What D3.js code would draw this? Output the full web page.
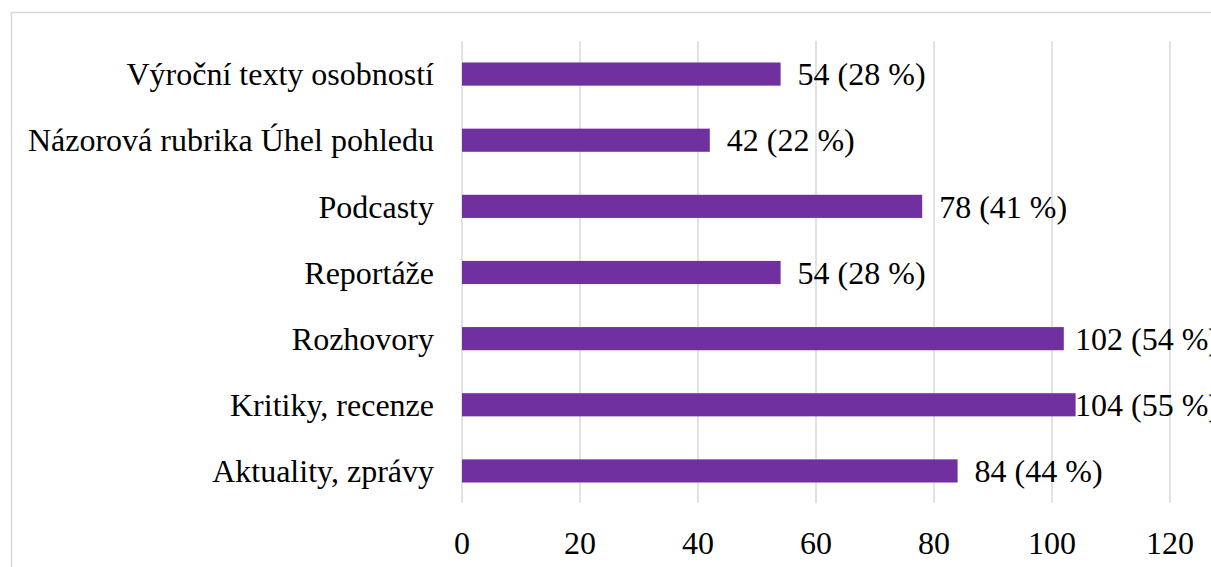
<!DOCTYPE html>
<html>
<head>
<meta charset="utf-8">
<script src="https://cdn.jsdelivr.net/npm/d3@7"></script>
<style>
  html, body { margin: 0; padding: 0; background: #fff; overflow: hidden; }
</style>
</head>
<body>
<script>
const categories = [
  "Výroční texty osobností",
  "Názorová rubrika Úhel pohledu",
  "Podcasty",
  "Reportáže",
  "Rozhovory",
  "Kritiky, recenze",
  "Aktuality, zprávy"
];
const counts = [54, 42, 78, 54, 102, 104, 84];
const shares = [28, 22, 41, 28, 54, 55, 44];
const xTicks = [0, 20, 40, 60, 80, 100, 120];

const W = 1211, H = 567;
const FONT = "'Liberation Serif', 'Times New Roman', Times, serif";
const FS = 32;
const svg = d3.select("body").append("svg")
  .attr("width", W)
  .attr("height", H);

// chart frame (runs off the right and bottom edge)
svg.append("rect")
  .attr("x", 11.5).attr("y", 12.5)
  .attr("width", 1300).attr("height", 700)
  .attr("fill", "none")
  .attr("stroke", "#d9d9d9")
  .attr("stroke-width", 1.5);

const x = d3.scaleLinear().domain([0, 120]).range([462, 1170]);
const y = d3.scaleBand().domain(categories).range([41, 504]).paddingInner(0.65).paddingOuter(0.325);

// gridlines
svg.append("g").selectAll("line")
  .data(xTicks)
  .enter().append("line")
  .attr("x1", d => x(d)).attr("x2", d => x(d))
  .attr("y1", 41).attr("y2", 503)
  .attr("stroke", "#d9d9d9")
  .attr("stroke-width", 1.5);

// bars
svg.append("g").selectAll("rect")
  .data(categories)
  .enter().append("rect")
  .attr("x", x(0))
  .attr("y", d => y(d))
  .attr("width", (d, i) => x(counts[i]) - x(0))
  .attr("height", y.bandwidth())
  .attr("fill", "#7030a0");

// value labels
svg.append("g").selectAll("text")
  .data(categories)
  .enter().append("text")
  .attr("x", (d, i) => Math.min(x(counts[i]) + 17, 1075))
  .attr("y", d => y(d) + y.bandwidth() / 2)
  .attr("dy", "0.35em")
  .attr("font-family", FONT)
  .attr("font-size", FS)
  .attr("fill", "#000")
  .text((d, i) => counts[i] + " (" + shares[i] + " %)");

// category labels
svg.append("g").selectAll("text")
  .data(categories)
  .enter().append("text")
  .attr("x", 434)
  .attr("y", d => y(d) + y.bandwidth() / 2)
  .attr("dy", "0.35em")
  .attr("text-anchor", "end")
  .attr("font-family", FONT)
  .attr("font-size", FS)
  .attr("fill", "#000")
  .text(d => d);

// x axis tick labels
svg.append("g").selectAll("text")
  .data(xTicks)
  .enter().append("text")
  .attr("x", d => x(d))
  .attr("y", 543)
  .attr("dy", "0.35em")
  .attr("text-anchor", "middle")
  .attr("font-family", FONT)
  .attr("font-size", FS)
  .attr("fill", "#000")
  .text(d => d);
</script>
</body>
</html>
